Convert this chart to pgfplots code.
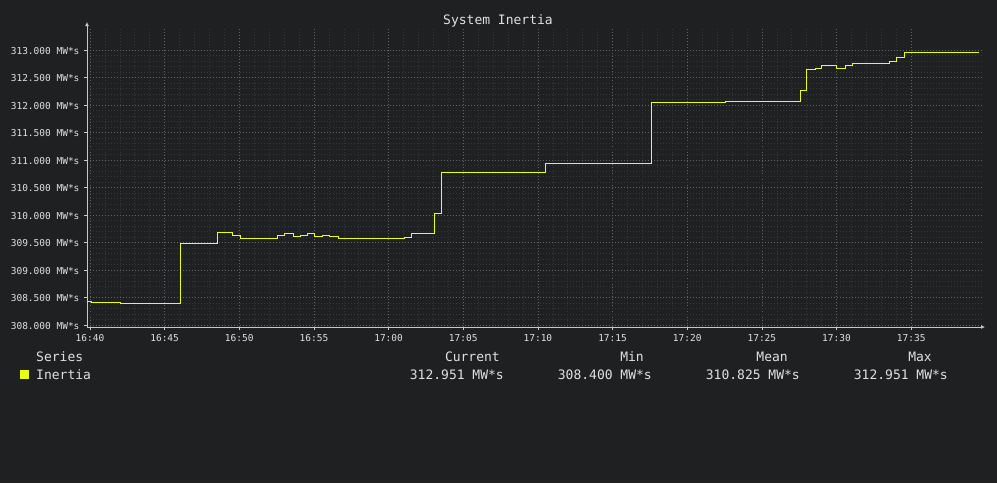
\documentclass[border=0pt]{standalone}
\usepackage{pgfplots}
\pgfplotsset{compat=1.18}
\usepackage{fontspec}
\setmainfont{DejaVu Sans Mono}
\usetikzlibrary{arrows.meta}

\definecolor{bg}{RGB}{31,32,34}
\definecolor{fg}{RGB}{224,224,224}
\definecolor{axisc}{RGB}{200,200,200}
\definecolor{gmaj}{RGB}{100,100,100}
\definecolor{gmin}{RGB}{54,55,58}
\definecolor{inertia}{RGB}{232,255,20}

\begin{document}
\begin{tikzpicture}[x=1pt,y=1pt]
\path[use as bounding box, fill=bg] (0,0) rectangle (997,-483);

\node[anchor=base, inner sep=0, text=fg, font=\fontsize{13}{14}\selectfont] at (498,-24) {System Inertia};

\begin{axis}[
  at={(87pt,-327pt)}, anchor=south west, scale only axis,
  width=896pt, height=300pt,
  xmin=-0.2, xmax=59.81, ymin=307.964, ymax=313.418,
  axis lines=left,
  axis line style={axisc, line width=0.8pt},
  x axis line style={-{Latex[length=4pt,width=4pt]}, shorten >=-2pt},
  y axis line style={-{Latex[length=4pt,width=4pt]}, shorten >=-5pt},
  xtick={0,5,...,55},
  xticklabels={16:40,16:45,16:50,16:55,17:00,17:05,17:10,17:15,17:20,17:25,17:30,17:35},
  ytick={308,308.5,...,313},
  minor x tick num=4,
  minor y tick num=4,
  grid=both,
  major grid style={gmaj, line width=0.6pt, dash pattern=on 1pt off 2pt},
  minor grid style={gmin, line width=0.6pt, dash pattern=on 1pt off 2pt},
  tick align=outside,
  major tick length=3pt,
  minor tick length=0pt,
  tick style={axisc, line width=0.6pt},
  /pgf/number format/assume math mode=true,
  ticklabel style={text=fg, font=\fontsize{9.5}{10}\selectfont},
  xticklabel style={yshift=-1pt},
  yticklabel={\pgfmathprintnumber[fixed,fixed zerofill,precision=3]{\tick} MW*s},
  yticklabel style={xshift=-1pt, yshift=-1pt},
]
\addplot[const plot, inertia, line width=1pt] coordinates {
  (-0.2,308.436) (0.07,308.418) (2.05,308.400) (6.07,309.490)
  (8.55,309.685) (9.55,309.620) (10.1,309.575) (12.57,309.636)
  (13.06,309.667) (13.6,309.606) (14.07,309.630) (14.6,309.667)
  (15.07,309.606) (15.58,309.630) (16.07,309.606) (16.63,309.575)
  (21.05,309.594) (21.55,309.667) (23.07,310.030) (23.55,310.776)
  (30.52,310.945) (37.58,312.050) (42.53,312.067) (47.56,312.267)
  (48.0,312.648) (48.56,312.667) (49.0,312.710) (49.56,312.727)
  (50.0,312.667) (50.57,312.710) (51.06,312.758) (53.58,312.794)
  (54.03,312.867) (54.52,312.951) (59.55,312.951)
};
\end{axis}

\begin{scope}[every node/.style={inner sep=0, text=fg, font=\fontsize{13}{14}\selectfont}]
\node[anchor=base west] at (36,-361) {Series};
\fill[inertia] (20,-370) rectangle (29,-379);
\node[anchor=base west] at (36,-379) {Inertia};
\node[anchor=base east] at (500,-361) {Current};
\node[anchor=base east] at (644,-361) {Min};
\node[anchor=base east] at (788,-361) {Mean};
\node[anchor=base east] at (932,-361) {Max};
\node[anchor=base east] at (504,-379) {312.951 MW*s};
\node[anchor=base east] at (652,-379) {308.400 MW*s};
\node[anchor=base east] at (800,-379) {310.825 MW*s};
\node[anchor=base east] at (948,-379) {312.951 MW*s};
\end{scope}
\end{tikzpicture}
\end{document}
